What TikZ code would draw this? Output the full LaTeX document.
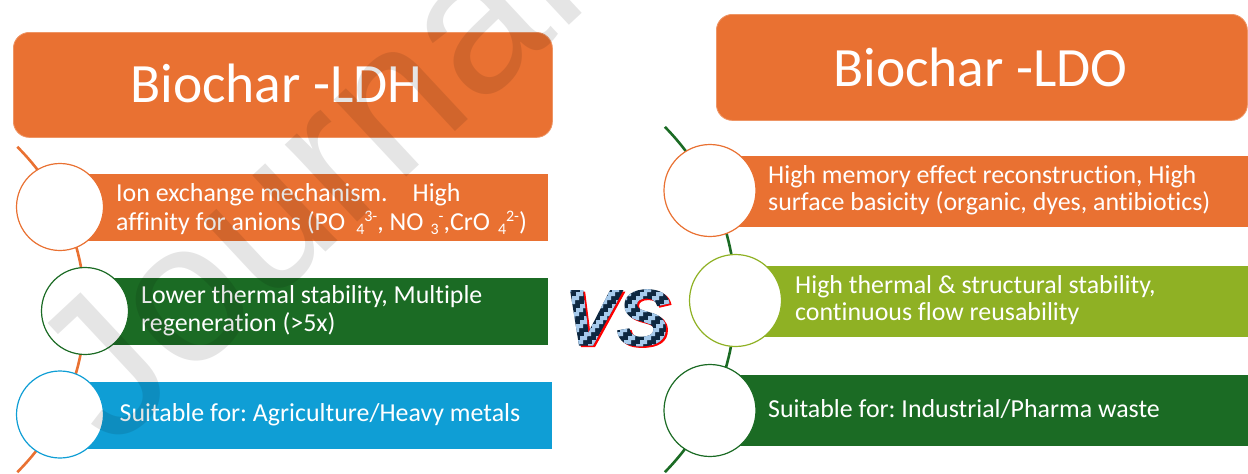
\documentclass[tikz,border=0pt]{standalone}
\usepackage{fontspec}
\setmainfont{Carlito}[RawFeature={-liga;-clig;-dlig}]
\newfontfamily\wmfont{Liberation Sans}
\newfontfamily\vsfont{Liberation Sans}[BoldItalicFeatures={FakeBold=1.6}]
\usetikzlibrary{calc}
\definecolor{cOrange}{HTML}{E97132}
\definecolor{cDGreen}{HTML}{1B6B24}
\definecolor{cBlue}{HTML}{0F9ED5}
\definecolor{cLGreen}{HTML}{8FB124}
\definecolor{cNavy}{HTML}{0E2841}
\definecolor{cLBlue}{HTML}{A6CAEC}
\newcommand{\mysb}[1]{\raisebox{-4pt}{\fontsize{16}{16}\selectfont #1}}
\newcommand{\mysp}[1]{\raisebox{9pt}{\fontsize{16}{16}\selectfont #1}}
\tikzset{
  titlebox/.style={rounded corners=16pt, fill=cOrange, draw=cOrange!75!white, line width=0.8pt, anchor=north west, inner sep=0},
  itembox/.style={anchor=north west, inner sep=0, draw=none},
  bullet/.style={circle, fill=white, line width=1.2pt, inner sep=0, minimum size=#1},
  titletext/.style={anchor=base west, inner sep=0, text=white, font=\fontsize{55.5}{60}\selectfont},
  itemtext/.style={anchor=base west, inner sep=0, text=white, font=\fontsize{25.9}{28}\selectfont},
  spine/.style={line width=2.6pt},
  vstext/.style={anchor=base west, inner sep=0, font=\vsfont\bfseries\itshape\fontsize{79}{80}\selectfont}
}
\begin{document}
\frenchspacing
\begin{tikzpicture}[x=1pt,y=-1pt]
\useasboundingbox (0,0) rectangle (1248,474);
% ---------- left: Biochar-LDH ----------
\node[titlebox, minimum width=539pt, minimum height=105pt] (tL) at (13,32) {};
\node[titletext] (tLt) at (130,102) {Biochar -LDH};
\coordinate (Lc) at (-144.3,309.5);
\coordinate (Ltop) at ($(Lc)+(-45.2:229.3)$);
\draw[spine, cOrange] (Ltop) arc[start angle=-45.2, end angle=45.2, radius=229.3];
\node[itembox, fill=cOrange, minimum width=488pt, minimum height=67pt] (b1) at (60,174) {};
\node[itembox, fill=cDGreen, minimum width=463pt, minimum height=67pt] (b2) at (85,278) {};
\node[itembox, fill=cBlue, minimum width=492pt, minimum height=67pt] (b3) at (60,381.5) {};
\node[bullet=87pt, draw=cOrange] (c1) at (60,207) {};
\node[bullet=87pt, draw=cDGreen] (c2) at (85,311) {};
\node[bullet=87pt, draw=cBlue] (c3) at (60,414.5) {};
\node[itemtext] (b1a) at (116,201.7) {Ion exchange mechanism.\hspace*{25pt}High};
\node[itemtext] (b1b) at (116,230) {affinity for anions (PO\hspace*{11pt}\mysb{4}\mysp{3-}, NO\hspace*{7pt}\mysb{3}\mysp{-},CrO\hspace*{8pt}\mysb{4}\mysp{2-})};
\node[itemtext] (b2a) at (141,303) {Lower thermal stability, Multiple};
\node[itemtext] (b2b) at (141,331) {regeneration (>5x)};
\node[itemtext] (b3a) at (119.5,421.7) {Suitable for: Agriculture/Heavy metals};
% ---------- right: Biochar-LDO ----------
\node[titlebox, minimum width=531pt, minimum height=106pt] (tR) at (716,14) {};
\node[titletext] (tRt) at (833,86) {Biochar -LDO};
\coordinate (Rc) at (489.2,299.5);
\coordinate (Rtop) at ($(Rc)+(-44.5:246.3)$);
\draw[spine, cDGreen] (Rtop) arc[start angle=-44.5, end angle=44.5, radius=246.3];
\node[itembox, fill=cOrange, minimum width=538pt, minimum height=71pt] (r1) at (710,156) {};
\node[itembox, fill=cLGreen, minimum width=513pt, minimum height=71pt] (r2) at (735,266) {};
\node[itembox, fill=cDGreen, minimum width=538pt, minimum height=71pt] (r3) at (710,375) {};
\node[bullet=92pt, draw=cOrange] (d1) at (710,190.5) {};
\node[bullet=92pt, draw=cLGreen] (d2) at (735.5,300.5) {};
\node[bullet=92pt, draw=cDGreen] (d3) at (710,410.5) {};
\node[itemtext] (r1a) at (768,183.3) {High memory effect reconstruction, High};
\node[itemtext] (r1b) at (768,210.5) {surface basicity (organic, dyes, antibiotics)};
\node[itemtext] (r2a) at (795,293) {High thermal \& structural stability,};
\node[itemtext] (r2b) at (795,320.5) {continuous flow reusability};
\node[itemtext] (r3a) at (768,417.5) {Suitable for: Industrial/Pharma waste};
% ---------- VS ----------
\node[vstext, text=red] (vsS) at (566,346.5) {VS};
\node[vstext, text=cNavy] (vs) at (564,345) {VS};
\begin{scope}
\clip[shift={(556,280)}] \foreach \k in {-6,...,12} { \foreach \j in {0,...,17} { ({(4*\k-\j)*4},{\j*4}) rectangle ++(7,4) } };
\node[vstext, text=cLBlue] (vsP) at (564,345) {VS};
\end{scope}
% ---------- watermark ----------
\begin{scope}
\clip (0,0) rectangle (1248,474);
\node[rotate=43, anchor=base west, inner sep=0, text=black, text opacity=0.1, font=\wmfont\fontsize{200}{200}\selectfont] (wm) at (112,452) {Journal Pre-proof};
\end{scope}
\end{tikzpicture}
\end{document}
